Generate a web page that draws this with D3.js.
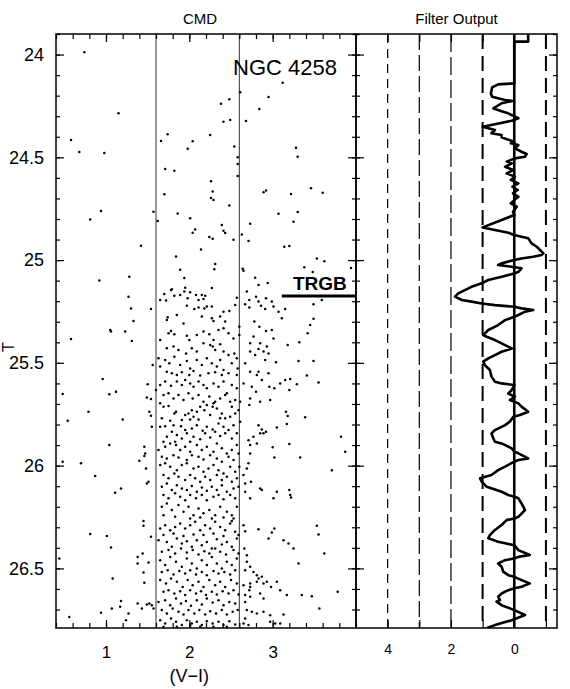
<!DOCTYPE html>
<html>
<head>
<meta charset="utf-8">
<title>NGC 4258 CMD and filter output</title>
<style>
  body { margin: 0; background: #fff; }
  svg text { font-family: "Liberation Sans", Arial, Helvetica, sans-serif; fill: #000; }
</style>
</head>
<body>
<div id="chart"></div>
<script src="https://d3js.org/d3.v7.min.js"></script>
<script>
// ---- data ----
// stars in the CMD: [V-I colour, T magnitude]
var stars = [
  // sparse upper part (above the tip)
  [0.74,23.989],[1.15,24.286],[0.58,24.416],[0.68,24.474],[0.98,24.479],[2.61,24.184],[3.12,24.137],[2.95,24.207],[2.84,24.265],[2.38,24.239],
  [2.48,24.218],[2.41,24.327],[2.49,24.318],[2.68,24.323],[1.74,24.388],[1.66,24.421],[2.04,24.422],[2.25,24.391],[1.98,24.458],[2.54,24.447],
  [3.28,24.453],[3.30,24.497],[2.58,24.500],[2.58,24.533],[2.58,24.591],[1.71,24.557],[1.82,24.565],[2.26,24.617],[2.28,24.666],[1.70,24.680],
  [2.26,24.698],[2.29,24.708],[2.48,24.734],[2.89,24.670],[2.92,24.661],[3.22,24.679],[3.46,24.651],[3.60,24.672],[0.94,24.761],[0.81,24.802],
  [1.57,24.765],[1.62,24.810],[1.86,24.773],[2.01,24.797],[2.73,24.823],[3.07,24.774],[3.30,24.766],[3.25,24.813],[2.39,24.829],[2.07,24.851],
  [2.04,24.867],[2.41,24.857],[2.43,24.868],[2.24,24.888],[2.28,24.896],[2.53,24.901],[2.63,24.875],[2.71,24.907],[1.42,24.930],[2.14,24.949],
  [3.14,24.935],[3.20,24.932],[1.84,24.982],[3.53,24.992],[3.62,25.006],[1.89,25.047],[2.31,25.019],[2.30,25.045],[2.64,25.042],[2.65,25.052],
  [3.38,25.035],[3.48,25.058],[3.94,25.039],[0.92,25.099],[1.28,25.081],[1.94,25.087],[2.79,25.086],[2.83,25.121],[2.94,25.112],[1.79,25.142],
  [1.95,25.134],[2.27,25.136],[3.05,24.035],
  // 25.14 - 25.70
  [1.70,25.165],[1.78,25.145],[2.01,25.157],[1.94,25.153],[2.08,25.170],[2.15,25.170],[2.19,25.173],[1.65,25.194],[1.72,25.197],[1.82,25.173],
  [1.89,25.170],[1.98,25.186],[2.11,25.194],[2.17,25.189],[1.27,25.178],[2.69,25.153],[2.80,25.178],[2.72,25.194],[2.83,25.202],[2.92,25.186],
  [2.99,25.202],[2.57,25.183],[3.59,25.194],[3.49,25.215],[1.30,25.235],[1.54,25.238],[1.33,25.296],[2.06,25.238],[2.11,25.231],[2.18,25.235],
  [2.21,25.226],[2.27,25.226],[1.97,25.222],[2.41,25.251],[2.48,25.248],[2.55,25.218],[2.67,25.215],[2.72,25.231],[2.86,25.222],[2.91,25.238],
  [3.01,25.226],[3.07,25.251],[3.15,25.238],[3.11,25.283],[1.74,25.278],[1.73,25.291],[1.85,25.267],[2.15,25.275],[2.27,25.283],[2.29,25.296],
  [2.37,25.275],[2.43,25.299],[2.60,25.324],[2.78,25.299],[2.84,25.324],[2.92,25.345],[2.99,25.340],[3.45,25.316],[3.49,25.286],[3.42,25.356],
  [1.93,25.308],[1.05,25.340],[1.06,25.348],[1.23,25.348],[1.31,25.394],[0.58,25.384],[1.65,25.389],[1.75,25.356],[1.78,25.345],[1.82,25.361],
  [1.97,25.368],[2.00,25.389],[2.09,25.364],[2.17,25.348],[2.24,25.361],[2.29,25.389],[2.35,25.340],[2.41,25.332],[2.47,25.356],[2.53,25.381],
  [2.37,25.410],[2.25,25.413],[2.17,25.405],[2.28,25.421],[2.60,25.364],[2.73,25.405],[2.77,25.372],[2.85,25.405],[2.93,25.421],[2.89,25.445],
  [3.01,25.381],[3.18,25.413],[3.32,25.400],[1.73,25.429],[1.81,25.421],[1.87,25.437],[1.96,25.454],[2.03,25.429],[2.09,25.445],[2.31,25.437],
  [2.41,25.445],[2.47,25.462],[2.54,25.454],[2.73,25.445],[2.79,25.462],[2.83,25.432],[2.95,25.454],[1.56,25.510],[1.63,25.478],[1.65,25.518],
  [1.71,25.486],[1.76,25.502],[1.82,25.470],[1.89,25.510],[1.97,25.491],[2.01,25.527],[2.09,25.486],[2.15,25.510],[2.21,25.478],[2.27,25.502],
  [2.33,25.518],[2.37,25.486],[2.41,25.535],[2.51,25.502],[2.57,25.478],[2.58,25.527],[2.67,25.502],[2.73,25.543],[2.83,25.543],[2.91,25.486],
  [3.04,25.497],[3.31,25.491],[3.49,25.491],[1.73,25.543],[1.79,25.551],[1.85,25.559],[1.91,25.546],[2.00,25.559],[2.05,25.540],[2.13,25.562],
  [2.23,25.551],[2.31,25.546],[2.39,25.559],[2.47,25.551],[2.57,25.559],[2.81,25.559],[2.95,25.551],[3.41,25.562],[0.96,25.578],[0.48,25.651],
  [1.04,25.653],[1.12,25.640],[1.50,25.604],[1.49,25.669],[1.54,25.676],[1.60,25.632],[1.65,25.608],[1.71,25.591],[1.78,25.611],[1.85,25.591],
  [1.91,25.608],[1.95,25.583],[2.01,25.600],[2.05,25.616],[2.11,25.591],[2.17,25.608],[2.21,25.624],[2.29,25.600],[2.35,25.616],[2.41,25.591],
  [2.45,25.648],[2.51,25.608],[2.57,25.624],[2.65,25.600],[2.75,25.616],[2.80,25.640],[2.87,25.583],[2.96,25.616],[3.02,25.624],[3.09,25.600],
  [3.15,25.583],[3.21,25.578],[3.20,25.632],[3.29,25.604],[3.55,25.595],[1.69,25.656],[1.75,25.648],[1.81,25.673],[1.87,25.656],[1.93,25.681],
  [1.99,25.648],[2.04,25.673],[2.11,25.656],[2.17,25.689],[2.24,25.664],[2.31,25.689],[2.37,25.673],[2.43,25.656],[2.49,25.689],[2.55,25.681],
  [2.61,25.689],[2.73,25.673],[2.85,25.689],[2.97,25.681],[1.65,25.697],[2.29,25.697],
  // 25.70 - 26.26
  [0.79,25.738],[0.54,25.782],[1.20,25.775],[1.04,25.900],[0.48,25.981],[0.70,25.989],[0.87,26.051],[1.11,26.132],[1.18,26.111],[1.40,25.976],
  [1.46,25.908],[1.47,25.941],[1.46,25.953],[1.48,26.014],[1.49,26.087],[1.51,26.078],[1.52,25.738],[1.54,25.757],[1.55,25.811],[2.72,25.705],
  [2.71,25.876],[2.73,25.900],[2.77,25.859],[2.73,25.941],[2.71,25.989],[2.81,25.892],[2.83,25.803],[2.87,25.824],[2.89,25.843],[2.85,25.843],
  [2.92,25.835],[3.05,25.814],[3.00,25.911],[3.02,25.960],[3.16,25.738],[3.18,25.759],[3.17,25.798],[3.20,25.895],[3.33,25.960],[3.39,25.765],
  [3.71,26.022],[3.82,25.859],[3.87,25.932],[2.67,26.127],[2.73,26.159],[2.85,26.111],[2.87,26.119],[3.05,26.127],[3.01,26.159],[3.20,26.119],
  [3.21,26.143],[3.22,26.155],[2.67,26.087],[2.69,26.014],[2.74,26.078],[2.65,26.046],
  [1.69,25.713],[1.75,25.710],[1.82,25.746],[1.84,25.738],[1.95,25.754],[1.99,25.746],[2.03,25.730],[2.05,25.762],[2.09,25.738],[2.13,25.713],
  [2.18,25.730],[2.21,25.705],[2.28,25.713],[2.33,25.722],[2.39,25.746],[2.43,25.770],[2.49,25.762],[2.55,25.746],[2.59,25.730],[1.67,25.770],
  [1.77,25.782],[1.91,25.778],[2.01,25.775],[2.11,25.775],[2.25,25.754],[2.37,25.770],[2.51,25.713],[1.65,25.811],[1.71,25.808],[1.81,25.803],
  [1.90,25.808],[1.95,25.827],[2.03,25.819],[2.09,25.803],[2.16,25.830],[2.21,25.811],[2.28,25.824],[2.35,25.795],[2.41,25.811],[2.47,25.827],
  [2.53,25.803],[2.57,25.843],[2.61,25.786],[1.73,25.859],[1.79,25.835],[1.85,25.851],[1.91,25.868],[1.97,25.843],[2.05,25.859],[2.13,25.872],
  [2.19,25.843],[2.25,25.863],[2.31,25.835],[2.37,25.856],[2.43,25.843],[2.51,25.868],[1.69,25.884],[1.83,25.884],[2.01,25.884],[1.63,25.924],
  [1.71,25.908],[1.77,25.892],[1.84,25.900],[1.89,25.924],[1.95,25.908],[2.01,25.932],[2.09,25.900],[2.15,25.924],[2.21,25.908],[2.29,25.932],
  [2.33,25.892],[2.39,25.916],[2.45,25.941],[2.51,25.924],[2.57,25.900],[2.59,25.941],[1.67,25.957],[1.73,25.965],[1.81,25.949],[1.87,25.960],
  [1.97,25.973],[2.03,25.949],[2.11,25.957],[2.17,25.970],[2.25,25.949],[2.33,25.965],[2.39,25.981],[2.47,25.957],[2.53,25.973],[1.65,25.997],
  [1.71,25.989],[1.77,26.005],[1.85,26.022],[1.91,25.997],[1.97,25.989],[2.05,26.014],[2.11,26.005],[2.17,26.030],[2.23,26.014],[2.29,25.997],
  [2.35,26.022],[2.41,26.038],[2.49,26.005],[2.55,26.030],[2.60,26.005],[1.69,26.046],[1.75,26.062],[1.82,26.038],[1.87,26.054],[1.95,26.070],
  [2.01,26.046],[2.07,26.062],[2.13,26.078],[2.19,26.054],[2.25,26.070],[2.33,26.046],[2.39,26.070],[2.45,26.054],[2.51,26.078],[2.57,26.062],
  [1.67,26.103],[1.73,26.087],[1.79,26.119],[1.85,26.095],[1.91,26.111],[1.97,26.119],[2.03,26.099],[2.09,26.127],[2.15,26.106],[2.21,26.122],
  [2.27,26.103],[2.33,26.119],[2.39,26.095],[2.45,26.127],[2.53,26.111],[2.59,26.103],[1.69,26.143],[1.75,26.159],[1.83,26.135],[1.89,26.151],
  [1.95,26.168],[2.01,26.143],[2.08,26.159],[2.15,26.143],[2.21,26.168],[2.29,26.151],[2.35,26.143],[2.41,26.164],[2.49,26.143],[2.55,26.159],
  [1.67,26.200],[1.73,26.184],[1.79,26.216],[1.87,26.192],[1.93,26.224],[1.99,26.200],[2.05,26.241],[2.11,26.208],[2.17,26.232],[2.24,26.216],
  [2.31,26.241],[2.37,26.200],[2.45,26.224],[2.51,26.241],[2.57,26.200],[1.69,26.241],[1.83,26.249],[2.01,26.257],[2.13,26.252],[2.27,26.257],
  [2.41,26.252],[2.53,26.257],
  // 26.26 - bottom
  [0.81,26.333],[1.01,26.342],[1.06,26.398],[1.08,26.549],[0.44,26.452],[0.56,26.736],[0.94,26.716],[1.07,26.695],[1.18,26.659],[1.17,26.687],
  [1.27,26.719],[1.24,26.752],[1.38,26.444],[1.38,26.476],[1.44,26.428],[1.51,26.471],[1.45,26.520],[1.46,26.570],[1.45,26.270],[1.45,26.293],
  [1.54,26.346],[1.38,26.671],[1.43,26.695],[1.49,26.676],[1.52,26.671],[1.55,26.679],[1.57,26.695],
  [2.65,26.290],[2.67,26.319],[2.83,26.309],[2.95,26.355],[2.99,26.325],[3.02,26.306],[3.13,26.363],[3.19,26.379],[3.25,26.403],[3.53,26.293],
  [3.55,26.335],[3.62,26.428],[3.31,26.476],[2.66,26.403],[2.69,26.436],[2.69,26.468],[2.73,26.492],[2.67,26.509],[2.77,26.517],[2.81,26.533],
  [2.87,26.541],[2.83,26.549],[2.73,26.574],[2.81,26.565],[2.89,26.574],[2.93,26.565],[2.98,26.590],[3.05,26.565],[3.09,26.606],[3.17,26.630],
  [3.35,26.630],[3.47,26.635],[3.78,26.614],[3.56,26.695],[2.65,26.582],[2.73,26.590],[2.72,26.606],[2.67,26.630],[2.73,26.638],[2.85,26.622],
  [2.89,26.647],[2.67,26.663],[2.69,26.703],[2.75,26.711],[2.81,26.719],[2.89,26.711],[2.97,26.728],[3.13,26.724],[2.67,26.744],[2.97,26.760],
  [3.03,26.768],[3.09,26.768],[2.65,26.768],[2.71,26.776],
  [1.65,26.306],[1.71,26.290],[1.77,26.314],[1.83,26.298],[1.89,26.282],[1.95,26.306],[2.01,26.290],[2.07,26.273],[2.13,26.314],[2.19,26.290],
  [2.25,26.306],[2.31,26.273],[2.37,26.298],[2.43,26.314],[2.49,26.282],[2.55,26.322],[2.59,26.338],[1.69,26.338],[1.81,26.330],[1.93,26.342],
  [2.05,26.335],[2.17,26.338],[2.29,26.330],[2.41,26.342],[2.51,26.270],[1.63,26.363],[1.73,26.371],[1.79,26.395],[1.85,26.355],[1.91,26.379],
  [1.97,26.368],[2.03,26.395],[2.09,26.363],[2.15,26.387],[2.21,26.371],[2.27,26.403],[2.33,26.358],[2.39,26.384],[2.45,26.371],[2.51,26.395],
  [2.57,26.355],[1.67,26.419],[1.75,26.411],[1.83,26.428],[1.90,26.403],[1.97,26.423],[2.04,26.411],[2.11,26.432],[2.18,26.416],[2.24,26.428],
  [2.31,26.403],[2.37,26.419],[2.44,26.432],[2.53,26.411],[2.59,26.428],[1.65,26.460],[1.71,26.484],[1.77,26.444],[1.84,26.468],[1.91,26.492],
  [1.97,26.452],[2.03,26.476],[2.09,26.501],[2.15,26.460],[2.21,26.484],[2.27,26.444],[2.33,26.476],[2.39,26.501],[2.45,26.468],[2.51,26.484],
  [2.57,26.452],[1.67,26.517],[1.74,26.509],[1.81,26.530],[1.88,26.513],[1.95,26.525],[2.01,26.509],[2.08,26.530],[2.15,26.517],[2.21,26.533],
  [2.29,26.513],[2.35,26.525],[2.42,26.517],[2.49,26.530],[2.55,26.509],[1.65,26.557],[1.72,26.574],[1.78,26.549],[1.85,26.565],[1.92,26.590],
  [1.98,26.557],[2.04,26.582],[2.11,26.565],[2.17,26.590],[2.24,26.557],[2.31,26.582],[2.37,26.565],[2.43,26.590],[2.50,26.557],[2.57,26.574],
  [1.69,26.614],[1.75,26.606],[1.82,26.622],[1.89,26.611],[1.95,26.630],[2.01,26.606],[2.08,26.622],[2.14,26.611],[2.20,26.630],[2.27,26.614],
  [2.33,26.627],[2.40,26.611],[2.47,26.622],[2.53,26.606],[2.59,26.627],[1.63,26.663],[1.71,26.655],[1.77,26.679],[1.84,26.647],[1.90,26.671],
  [1.96,26.659],[2.02,26.682],[2.09,26.655],[2.15,26.676],[2.21,26.647],[2.28,26.666],[2.35,26.655],[2.41,26.679],[2.48,26.663],[2.55,26.671],
  [1.67,26.703],[1.73,26.719],[1.80,26.695],[1.87,26.711],[1.93,26.724],[1.99,26.703],[2.06,26.719],[2.12,26.703],[2.19,26.724],[2.25,26.708],
  [2.32,26.719],[2.39,26.703],[2.45,26.724],[2.52,26.711],[2.58,26.703],[1.65,26.752],[1.71,26.768],[1.78,26.744],[1.84,26.760],[1.91,26.776],
  [1.97,26.752],[2.03,26.768],[2.09,26.760],[2.15,26.776],[2.21,26.757],[2.28,26.768],[2.35,26.760],[2.41,26.776],[2.48,26.757],[2.55,26.773],
  [1.69,26.784],[1.85,26.784],[2.01,26.779],[2.13,26.784],[2.29,26.784],[2.45,26.784]
];

// filter output along the luminosity axis: [T, response]
var filterOut = [
  [23.900,-0.44],[23.937,-0.44],[23.937,0],[24.140,0],[24.145,0.51],[24.160,0.70],[24.189,0.74],[24.205,0.70],[24.213,0.51],[24.221,0.29],
  [24.226,0.06],[24.237,0.40],[24.262,0.66],[24.278,0.35],[24.286,0.19],[24.310,-0.13],[24.322,0.08],[24.351,1.00],[24.367,0.61],[24.383,0.72],
  [24.391,0.40],[24.403,0.40],[24.413,0.21],[24.424,0],[24.432,0.11],[24.440,-0.13],[24.456,-0.02],[24.473,-0.23],[24.484,-0.39],[24.497,-0.34],
  [24.505,-0.02],[24.521,0.24],[24.529,0.08],[24.546,0.29],[24.562,0.03],[24.578,0.24],[24.594,-0.02],[24.610,0.11],[24.627,-0.13],[24.643,0.06],
  [24.659,-0.11],[24.675,0.04],[24.692,-0.13],[24.708,0],[24.724,0.11],[24.740,-0.08],[24.765,0.04],[24.781,0],[24.841,1.00],
  [24.854,0.61],[24.867,0.19],[24.878,0],[24.886,-0.23],[24.894,-0.44],[24.919,-0.55],[24.935,-0.71],[24.967,-0.92],[24.975,-0.86],[24.984,-0.60],
  [24.992,-0.23],[25.000,0],[25.016,0.40],[25.024,0.51],[25.032,0.08],[25.040,-0.23],[25.057,-0.13],[25.065,0],[25.081,0.40],[25.097,0.82],
  [25.113,1.03],[25.130,1.35],[25.146,1.56],[25.162,1.77],[25.178,1.87],[25.194,1.66],[25.202,1.35],[25.211,1.03],[25.219,0.61],[25.227,0],
  [25.235,-0.23],[25.243,-0.60],[25.251,-0.34],[25.267,-0.13],[25.276,0],[25.292,0.29],[25.316,0.51],[25.340,0.82],[25.365,0.98],[25.373,0.87],
  [25.389,0.61],[25.405,0.40],[25.430,0.08],[25.446,0.40],[25.462,0.61],[25.478,0.82],[25.494,0.98],[25.511,0.93],[25.535,0.77],[25.567,0.72],
  [25.592,0.61],[25.600,0.40],[25.608,0],[25.632,0.08],[25.649,0.19],[25.665,-0.02],[25.681,0.14],[25.697,-0.13],[25.713,-0.23],[25.738,-0.44],
  [25.754,-0.18],[25.762,0.03],[25.786,0.14],[25.803,0.29],
  [25.827,0.61],[25.843,0.72],[25.868,0.66],[25.884,0.61],[25.892,0.40],[25.916,0.08],[25.932,0],[25.940,-0.13],[25.965,-0.44],[25.973,-0.13],
  [25.981,0],[26.005,0.29],[26.022,0.51],[26.046,0.72],[26.062,1.08],[26.078,1.03],[26.103,0.87],[26.116,0.61],[26.127,0.40],[26.143,0.19],
  [26.151,0],[26.159,-0.13],[26.184,-0.23],[26.216,-0.34],[26.249,-0.13],[26.257,0],[26.265,0.24],[26.289,0.40],[26.313,0.61],[26.338,0.77],
  [26.354,0.82],[26.362,0.66],[26.370,0.51],[26.378,0.29],[26.387,0],[26.411,-0.13],[26.435,-0.49],[26.444,-0.13],[26.452,0],[26.460,0.29],
  [26.476,0.51],[26.492,0.40],[26.516,0.35],[26.533,0.19],[26.541,0],[26.557,-0.23],[26.573,-0.49],[26.589,-0.23],[26.597,0],[26.606,0.19],
  [26.622,0.40],[26.638,0.51],[26.654,0.45],[26.662,0.56],[26.679,0.40],[26.703,0],[26.727,-0.34],[26.752,0.08],[26.776,0.61],[26.790,0.87]
];

var colourCuts = [1.6, 2.6];          // colour window of the filter
var trgb = 25.175;                    // tip of the red giant branch
var trgbFrom = 3.11;                  // left end of the TRGB marker
var yLabels = [24, 24.5, 25, 25.5, 26, 26.5];
var xLabels = [1, 2, 3];
var filterLabels = [4, 2, 0];
var filterLevels = [4, 3, 2, 1, -1];  // dashed reference levels

// ---- layout ----
// (avoid globals like "top" which clash with window.top)
var W = 570, H = 689;
var xL = 56, xM = 356, xR = 557, yT = 34, yB = 628;

var svg = d3.select("#chart").append("svg")
    .attr("width", W)
    .attr("height", H);

var x = d3.scaleLinear().domain([0.4, 4.0]).range([xL, xM]);
var xf = d3.scaleLinear().domain([5, -1.35]).range([xM, xR]);
var y = d3.scaleLinear().domain([23.9, 26.79]).range([yT, yB]);

var defs = svg.append("defs");
defs.append("clipPath").attr("id", "clipL").append("rect")
    .attr("x", xL).attr("y", yT).attr("width", xM - xL).attr("height", yB - yT);
defs.append("clipPath").attr("id", "clipR").append("rect")
    .attr("x", xM).attr("y", yT).attr("width", xR - xM).attr("height", yB - yT);

// tick positions
var yMinor = d3.range(239, 268).map(d => d / 10);
var xMinor = d3.range(2, 21).map(d => d / 5);

// ---- CMD panel ----
var cmd = svg.append("g").attr("clip-path", "url(#clipL)");

cmd.selectAll("line.cut")
    .data(colourCuts)
    .enter().append("line")
    .attr("class", "cut")
    .attr("x1", d => x(d)).attr("x2", d => x(d))
    .attr("y1", yT).attr("y2", yB)
    .attr("stroke", "#333")
    .attr("stroke-width", 1);

cmd.selectAll("circle")
    .data(stars)
    .enter().append("circle")
    .attr("cx", d => x(d[0]))
    .attr("cy", d => y(d[1]))
    .attr("r", 1.25)
    .attr("fill", "#000");

cmd.append("line")
    .attr("x1", x(trgbFrom)).attr("x2", xM)
    .attr("y1", y(trgb)).attr("y2", y(trgb))
    .attr("stroke", "#000")
    .attr("stroke-width", 3);

svg.append("text")
    .attr("x", 233).attr("y", 75)
    .attr("font-size", 22)
    .text("NGC 4258");

svg.append("text")
    .attr("x", 293).attr("y", 290)
    .attr("font-size", 19)
    .attr("font-weight", "bold")
    .text("TRGB");

// ---- filter panel ----
var flt = svg.append("g").attr("clip-path", "url(#clipR)");

var dashFor = { "4": "9,6", "3": "16,5", "2": "18,5", "1": "15,7", "-1": "15,7" };
flt.selectAll("line.level")
    .data(filterLevels)
    .enter().append("line")
    .attr("class", "level")
    .attr("x1", d => xf(d)).attr("x2", d => xf(d))
    .attr("y1", yT).attr("y2", yB)
    .attr("stroke", "#000")
    .attr("stroke-width", d => Math.abs(d) === 1 ? 2 : 1.2)
    .attr("stroke-dasharray", d => dashFor[d]);

flt.append("line")
    .attr("x1", xf(0)).attr("x2", xf(0))
    .attr("y1", yT).attr("y2", yB)
    .attr("stroke", "#000")
    .attr("stroke-width", 2.6);

var line = d3.line()
    .x(d => xf(d[1]))
    .y(d => y(d[0]));

flt.append("path")
    .datum(filterOut)
    .attr("d", line)
    .attr("fill", "none")
    .attr("stroke", "#000")
    .attr("stroke-width", 2.6)
    .attr("stroke-linejoin", "round");

// ---- axes ----
function addAxis(axis, tx, ty) {
    var g = svg.append("g")
        .attr("transform", "translate(" + tx + "," + ty + ")")
        .call(axis);
    g.select(".domain").remove();
    g.selectAll("line").attr("stroke-width", 1.2);
    return g;
}

// CMD left side
addAxis(d3.axisLeft(y).tickValues(yMinor).tickSize(-4).tickFormat(""), xL, 0);
addAxis(d3.axisLeft(y).tickValues(yLabels).tickSize(-8).tickPadding(12).tickFormat(d => d), xL, 0)
    .selectAll("text").attr("font-size", 18).attr("font-family", null);
// CMD right side and filter left side
addAxis(d3.axisRight(y).tickValues(yMinor).tickSize(-4).tickFormat(""), xM, 0);
addAxis(d3.axisRight(y).tickValues(yLabels).tickSize(-8).tickFormat(""), xM, 0);
addAxis(d3.axisLeft(y).tickValues(yMinor).tickSize(-4).tickFormat(""), xM, 0);
addAxis(d3.axisLeft(y).tickValues(yLabels).tickSize(-8).tickFormat(""), xM, 0);
// filter right side
addAxis(d3.axisRight(y).tickValues(yMinor).tickSize(-4).tickFormat(""), xR, 0);
addAxis(d3.axisRight(y).tickValues(yLabels).tickSize(-8).tickFormat(""), xR, 0);

// CMD top and bottom
addAxis(d3.axisTop(x).tickValues(xMinor).tickSize(-5).tickFormat(""), 0, yT);
addAxis(d3.axisTop(x).tickValues(xLabels).tickSize(-8).tickFormat(""), 0, yT);
addAxis(d3.axisBottom(x).tickValues(xMinor).tickSize(-5).tickFormat(""), 0, yB);
addAxis(d3.axisBottom(x).tickValues(xLabels).tickSize(-8).tickPadding(18).tickFormat(d => d), 0, yB)
    .selectAll("text").attr("font-size", 17).attr("font-family", null);

// filter top and bottom
addAxis(d3.axisTop(xf).tickValues(filterLevels).tickSize(-8).tickFormat(""), 0, yT);
addAxis(d3.axisBottom(xf).tickValues(filterLevels).tickSize(-8).tickFormat(""), 0, yB);
addAxis(d3.axisBottom(xf).tickValues(filterLabels).tickSize(0).tickPadding(16).tickFormat(d => d), 0, yB)
    .selectAll("text").attr("font-size", 14).attr("font-family", null);

// frames
svg.append("rect")
    .attr("x", xL).attr("y", yT)
    .attr("width", xM - xL).attr("height", yB - yT)
    .attr("fill", "none").attr("stroke", "#000").attr("stroke-width", 1.5);
svg.append("rect")
    .attr("x", xM).attr("y", yT)
    .attr("width", xR - xM).attr("height", yB - yT)
    .attr("fill", "none").attr("stroke", "#000").attr("stroke-width", 1.5);

// titles and axis names
svg.append("text")
    .attr("x", 200).attr("y", 24)
    .attr("text-anchor", "middle")
    .attr("font-size", 15)
    .text("CMD");
svg.append("text")
    .attr("x", (xM + xR) / 2).attr("y", 24)
    .attr("text-anchor", "middle")
    .attr("font-size", 15)
    .text("Filter Output");
svg.append("text")
    .attr("x", x(2)).attr("y", 682)
    .attr("text-anchor", "middle")
    .attr("font-size", 18)
    .text("(V\u2212I)");
svg.append("text")
    .attr("transform", "translate(14,347) rotate(-90)")
    .attr("text-anchor", "middle")
    .attr("font-size", 16)
    .text("T");
</script>
</body>
</html>
